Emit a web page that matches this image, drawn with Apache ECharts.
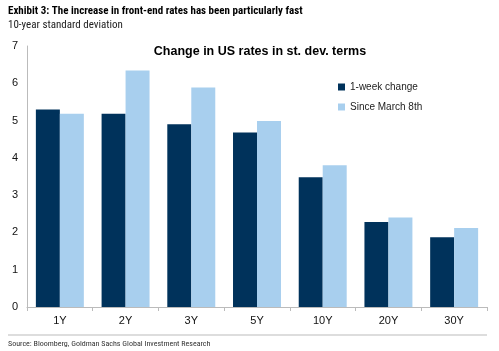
<!DOCTYPE html>
<html>
<head>
<meta charset="utf-8">
<script src="https://cdn.jsdelivr.net/npm/echarts@6/dist/echarts.min.js"></script>
<style>
  html, body { margin: 0; padding: 0; background: #fff; }
  #chart { width: 499px; height: 351px; }
</style>
</head>
<body>
<div id="chart"></div>
<script>
const categories = ["1Y", "2Y", "3Y", "5Y", "10Y", "20Y", "30Y"];
const weekChange = [5.3, 5.18, 4.9, 4.68, 3.48, 2.28, 1.87];
const sinceMarch = [5.18, 6.34, 5.89, 4.99, 3.8, 2.4, 2.12];
const seriesNames = ["1-week change", "Since March 8th"];

const narrow = "'Liberation Sans Narrow', 'Arial Narrow', 'Roboto Condensed', sans-serif";

let chart = echarts.init(document.getElementById("chart"));
chart.setOption({
  animation: false,
  textStyle: { fontFamily: "'Liberation Sans', Arial, sans-serif" },
  title: {
    text: "Change in US rates in st. dev. terms",
    left: 255,
    top: 40,
    textAlign: "center",
    textStyle: { fontSize: 12.5, fontWeight: "bold", color: "#000" }
  },
  legend: {
    data: seriesNames,
    orient: "vertical",
    left: 333,
    top: 76,
    itemWidth: 7,
    itemHeight: 7,
    itemGap: 8,
    icon: "rect",
    textStyle: { fontSize: 10, color: "#222", lineHeight: 12 }
  },
  grid: { left: 27, right: 12, top: 46, bottom: 44 },
  xAxis: {
    type: "category",
    data: categories,
    axisLine: { lineStyle: { color: "#bbb" } },
    axisTick: { show: true, lineStyle: { color: "#bbb" }, length: 4 },
    axisLabel: { color: "#111", fontSize: 11, margin: 8 }
  },
  yAxis: {
    type: "value",
    min: 0,
    max: 7,
    interval: 1,
    axisLine: { show: true, lineStyle: { color: "#bbb" } },
    axisTick: { show: false },
    splitLine: { show: false },
    axisLabel: { color: "#111", fontSize: 11, margin: 9 }
  },
  graphic: [
    {
      type: "text", left: 8, top: 6,
      style: { text: "Exhibit 3: The increase in front-end rates has been particularly fast",
               font: "bold 11px " + narrow, fill: "#000" }
    },
    {
      type: "text", left: 8, top: 20,
      style: { text: "10-year standard deviation", font: "11px " + narrow, fill: "#222" }
    },
    {
      type: "line",
      shape: { x1: 8, y1: 335, x2: 487, y2: 335 },
      style: { stroke: "#bbb", lineWidth: 1 }
    },
    {
      type: "text", left: 8, top: 340,
      style: { text: "Source: Bloomberg, Goldman Sachs Global Investment Research",
               font: "8px " + narrow, fill: "#333" }
    }
  ],
  series: [
    {
      name: seriesNames[0],
      type: "bar",
      data: weekChange,
      barGap: "0%",
      barCategoryGap: "27%",
      itemStyle: { color: "#00325b" }
    },
    {
      name: seriesNames[1],
      type: "bar",
      data: sinceMarch,
      itemStyle: { color: "#a8cfee" }
    }
  ]
});
</script>
</body>
</html>
